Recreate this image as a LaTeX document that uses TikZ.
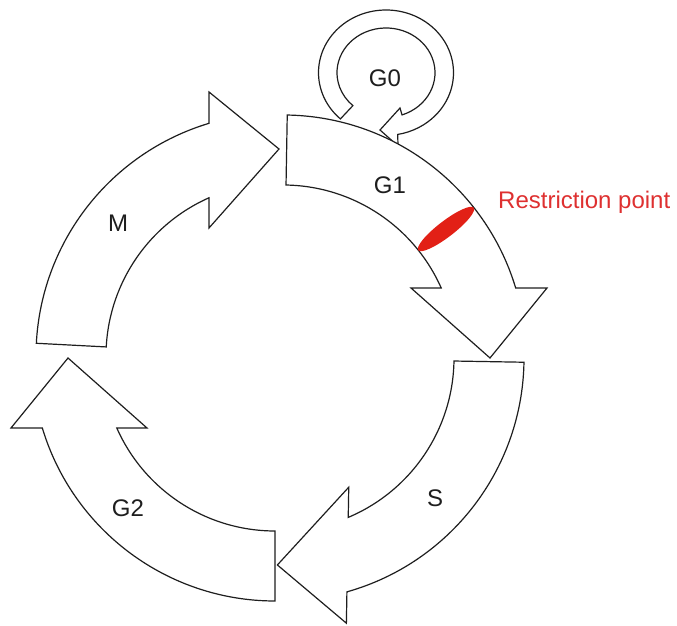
\documentclass[tikz,border=0pt]{standalone}
\usepackage{fontspec}
\setmainfont{Liberation Sans}
\definecolor{inkline}{RGB}{30,30,30}
\definecolor{rptext}{RGB}{222,48,48}
\definecolor{rpfill}{RGB}{226,32,22}
\tikzset{
  phase/.style={draw=inkline, fill=white, line width=1.2pt, line join=miter},
  lbl/.style={inner sep=0pt, text=inkline, font=\fontsize{24}{28}\selectfont},
}
% One phase of the cycle: a thick circular band with a broad head.
% #1,#2 centre of the ring, #3 rotation, #4 angle of the tail edge.
\newcommand\cyclearrow[4]{%
  \begin{scope}[shift={(#1,#2)},rotate=#3]
    \draw[phase] (#4:243) arc[start angle=#4,end angle=16.74,radius=243pt]
      -- (264,70) -- (207,0) -- (128,70) -- (158.2,70)
      arc[start angle=23.87,end angle=#4,radius=173pt] -- cycle;
  \end{scope}}
\begin{document}
\begin{tikzpicture}[x=1pt,y=1pt]
\useasboundingbox (0,0) rectangle (677,626);

% G0: small loop returning into G1
\begin{scope}[shift={(386,553.3)}]
  \draw[phase] (227.5:67.5 and 62.7)
    arc[start angle=227.5,end angle=-80,x radius=67.5pt,y radius=62.7pt]
    -- (12,-73.3) -- (-6,-57.3) -- (14,-35.3) -- (-70.9:49 and 44.7)
    arc[start angle=-70.9,end angle=227.5,x radius=49pt,y radius=44.7pt]
    -- cycle;
\end{scope}

% the four phases
\cyclearrow{279}{270}{90}{87}    % M
\cyclearrow{275}{268}{180}{90}   % G2
\cyclearrow{281}{268}{-91}{90}   % S
\cyclearrow{283}{268}{0}{89}     % G1

% restriction point marker
\fill[rpfill] (446,397) ellipse[x radius=35pt,y radius=8pt,rotate=37.5];

% labels
\node[lbl] (g0) at (385,548) {G0};
\node[lbl] (g1) at (390,441) {G1};
\node[lbl] (m)  at (118,403) {M};
\node[lbl] (s)  at (435,128) {S};
\node[lbl] (g2) at (128,118) {G2};
\node[lbl, text=rptext, anchor=base west] (rp) at (498,417) {Restriction point};
\end{tikzpicture}
\end{document}
